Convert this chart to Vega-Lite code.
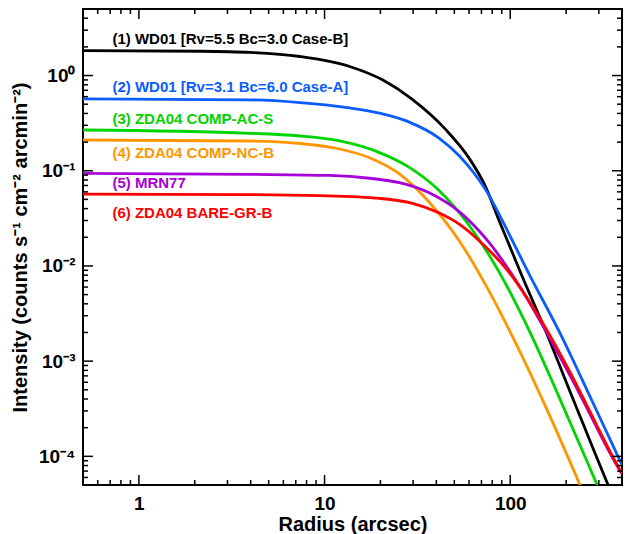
{
  "$schema": "https://vega.github.io/schema/vega-lite/v6.json",
  "width": 539,
  "height": 476,
  "autosize": {"type": "none"},
  "padding": {"left": 83, "top": 9, "right": 3, "bottom": 49},
  "background": "white",
  "config": {
    "view": {"stroke": "black", "strokeWidth": 2},
    "font": "Liberation Sans",
    "axis": {
      "grid": false,
      "domain": false,
      "labelFont": "Liberation Sans",
      "labelFontWeight": "bold",
      "labelColor": "black",
      "titleFont": "Liberation Sans",
      "titleFontWeight": "bold",
      "titleColor": "black"
    }
  },
  "datasets": {
    "curves": [
      {"model": "(1) WD01 [Rv=5.5 Bc=3.0 Case-B]", "r": 0.5, "I": 1.83},
      {"model": "(1) WD01 [Rv=5.5 Bc=3.0 Case-B]", "r": 2.14, "I": 1.80},
      {"model": "(1) WD01 [Rv=5.5 Bc=3.0 Case-B]", "r": 3.97, "I": 1.75},
      {"model": "(1) WD01 [Rv=5.5 Bc=3.0 Case-B]", "r": 7.36, "I": 1.585},
      {"model": "(1) WD01 [Rv=5.5 Bc=3.0 Case-B]", "r": 13.65, "I": 1.244},
      {"model": "(1) WD01 [Rv=5.5 Bc=3.0 Case-B]", "r": 20.5, "I": 0.901},
      {"model": "(1) WD01 [Rv=5.5 Bc=3.0 Case-B]", "r": 29.7, "I": 0.562},
      {"model": "(1) WD01 [Rv=5.5 Bc=3.0 Case-B]", "r": 45.0, "I": 0.27},
      {"model": "(1) WD01 [Rv=5.5 Bc=3.0 Case-B]", "r": 60.0, "I": 0.136},
      {"model": "(1) WD01 [Rv=5.5 Bc=3.0 Case-B]", "r": 73.8, "I": 0.0674},
      {"model": "(1) WD01 [Rv=5.5 Bc=3.0 Case-B]", "r": 86.5, "I": 0.031},
      {"model": "(1) WD01 [Rv=5.5 Bc=3.0 Case-B]", "r": 115.9, "I": 0.00779},
      {"model": "(1) WD01 [Rv=5.5 Bc=3.0 Case-B]", "r": 154.8, "I": 0.0021},
      {"model": "(1) WD01 [Rv=5.5 Bc=3.0 Case-B]", "r": 219.6, "I": 0.000386},
      {"model": "(1) WD01 [Rv=5.5 Bc=3.0 Case-B]", "r": 338, "I": 0.0000491},
      {"model": "(1) WD01 [Rv=5.5 Bc=3.0 Case-B]", "r": 392, "I": 0.0000249},

      {"model": "(2) WD01 [Rv=3.1 Bc=6.0 Case-A]", "r": 0.5, "I": 0.568},
      {"model": "(2) WD01 [Rv=3.1 Bc=6.0 Case-A]", "r": 3.97, "I": 0.555},
      {"model": "(2) WD01 [Rv=3.1 Bc=6.0 Case-A]", "r": 7.36, "I": 0.520},
      {"model": "(2) WD01 [Rv=3.1 Bc=6.0 Case-A]", "r": 13.65, "I": 0.457},
      {"model": "(2) WD01 [Rv=3.1 Bc=6.0 Case-A]", "r": 19.77, "I": 0.402},
      {"model": "(2) WD01 [Rv=3.1 Bc=6.0 Case-A]", "r": 28.6, "I": 0.324},
      {"model": "(2) WD01 [Rv=3.1 Bc=6.0 Case-A]", "r": 41.5, "I": 0.2193},
      {"model": "(2) WD01 [Rv=3.1 Bc=6.0 Case-A]", "r": 53.1, "I": 0.1438},
      {"model": "(2) WD01 [Rv=3.1 Bc=6.0 Case-A]", "r": 63.9, "I": 0.0941},
      {"model": "(2) WD01 [Rv=3.1 Bc=6.0 Case-A]", "r": 76.9, "I": 0.0551},
      {"model": "(2) WD01 [Rv=3.1 Bc=6.0 Case-A]", "r": 88.1, "I": 0.0334},
      {"model": "(2) WD01 [Rv=3.1 Bc=6.0 Case-A]", "r": 126, "I": 0.00832},
      {"model": "(2) WD01 [Rv=3.1 Bc=6.0 Case-A]", "r": 190, "I": 0.00179},
      {"model": "(2) WD01 [Rv=3.1 Bc=6.0 Case-A]", "r": 275.3, "I": 0.000386},
      {"model": "(2) WD01 [Rv=3.1 Bc=6.0 Case-A]", "r": 382.8, "I": 0.0000976},
      {"model": "(2) WD01 [Rv=3.1 Bc=6.0 Case-A]", "r": 400, "I": 0.0000812},

      {"model": "(3) ZDA04 COMP-AC-S", "r": 0.5, "I": 0.268},
      {"model": "(3) ZDA04 COMP-AC-S", "r": 3.97, "I": 0.2475},
      {"model": "(3) ZDA04 COMP-AC-S", "r": 7.36, "I": 0.2318},
      {"model": "(3) ZDA04 COMP-AC-S", "r": 12.06, "I": 0.2054},
      {"model": "(3) ZDA04 COMP-AC-S", "r": 19.77, "I": 0.1551},
      {"model": "(3) ZDA04 COMP-AC-S", "r": 28.6, "I": 0.1086},
      {"model": "(3) ZDA04 COMP-AC-S", "r": 41.5, "I": 0.0617},
      {"model": "(3) ZDA04 COMP-AC-S", "r": 60.0, "I": 0.02676},
      {"model": "(3) ZDA04 COMP-AC-S", "r": 87.0, "I": 0.00867},
      {"model": "(3) ZDA04 COMP-AC-S", "r": 126, "I": 0.00213},
      {"model": "(3) ZDA04 COMP-AC-S", "r": 182.4, "I": 0.000429},
      {"model": "(3) ZDA04 COMP-AC-S", "r": 299, "I": 0.0000463},
      {"model": "(3) ZDA04 COMP-AC-S", "r": 392, "I": 0.0000136},

      {"model": "(4) ZDA04 COMP-NC-B", "r": 0.5, "I": 0.2104},
      {"model": "(4) ZDA04 COMP-NC-B", "r": 3.97, "I": 0.2054},
      {"model": "(4) ZDA04 COMP-NC-B", "r": 7.36, "I": 0.1933},
      {"model": "(4) ZDA04 COMP-NC-B", "r": 12.06, "I": 0.1692},
      {"model": "(4) ZDA04 COMP-NC-B", "r": 17.48, "I": 0.137},
      {"model": "(4) ZDA04 COMP-NC-B", "r": 25.3, "I": 0.0925},
      {"model": "(4) ZDA04 COMP-NC-B", "r": 36.6, "I": 0.0467},
      {"model": "(4) ZDA04 COMP-NC-B", "r": 53.1, "I": 0.01842},
      {"model": "(4) ZDA04 COMP-NC-B", "r": 76.9, "I": 0.00544},
      {"model": "(4) ZDA04 COMP-NC-B", "r": 111.4, "I": 0.001318},
      {"model": "(4) ZDA04 COMP-NC-B", "r": 161.3, "I": 0.000281},
      {"model": "(4) ZDA04 COMP-NC-B", "r": 248.5, "I": 0.0000409},
      {"model": "(4) ZDA04 COMP-NC-B", "r": 299, "I": 0.0000176},

      {"model": "(5) MRN77", "r": 0.5, "I": 0.0939},
      {"model": "(5) MRN77", "r": 3.97, "I": 0.0917},
      {"model": "(5) MRN77", "r": 10.66, "I": 0.0892},
      {"model": "(5) MRN77", "r": 17.48, "I": 0.0834},
      {"model": "(5) MRN77", "r": 25.3, "I": 0.0749},
      {"model": "(5) MRN77", "r": 36.6, "I": 0.0587},
      {"model": "(5) MRN77", "r": 53.1, "I": 0.0372},
      {"model": "(5) MRN77", "r": 76.9, "I": 0.01764},
      {"model": "(5) MRN77", "r": 111.4, "I": 0.00626},
      {"model": "(5) MRN77", "r": 161.3, "I": 0.00182},
      {"model": "(5) MRN77", "r": 233.4, "I": 0.000477},
      {"model": "(5) MRN77", "r": 392, "I": 0.0000697},
      {"model": "(5) MRN77", "r": 400, "I": 0.0000655},

      {"model": "(6) ZDA04 BARE-GR-B", "r": 0.5, "I": 0.0568},
      {"model": "(6) ZDA04 BARE-GR-B", "r": 3.97, "I": 0.0562},
      {"model": "(6) ZDA04 BARE-GR-B", "r": 9.43, "I": 0.0548},
      {"model": "(6) ZDA04 BARE-GR-B", "r": 19.77, "I": 0.0512},
      {"model": "(6) ZDA04 BARE-GR-B", "r": 29.8, "I": 0.0454},
      {"model": "(6) ZDA04 BARE-GR-B", "r": 41.5, "I": 0.0359},
      {"model": "(6) ZDA04 BARE-GR-B", "r": 53.1, "I": 0.02748},
      {"model": "(6) ZDA04 BARE-GR-B", "r": 67.6, "I": 0.01865},
      {"model": "(6) ZDA04 BARE-GR-B", "r": 98.4, "I": 0.00859},
      {"model": "(6) ZDA04 BARE-GR-B", "r": 126, "I": 0.00431},
      {"model": "(6) ZDA04 BARE-GR-B", "r": 161.3, "I": 0.001957},
      {"model": "(6) ZDA04 BARE-GR-B", "r": 206.4, "I": 0.000816},
      {"model": "(6) ZDA04 BARE-GR-B", "r": 392, "I": 0.0000705},
      {"model": "(6) ZDA04 BARE-GR-B", "r": 400, "I": 0.0000658}
    ],
    "labels": [
      {"model": "(1) WD01 [Rv=5.5 Bc=3.0 Case-B]", "lx": 0.72, "ly": 2.42},
      {"model": "(2) WD01 [Rv=3.1 Bc=6.0 Case-A]", "lx": 0.72, "ly": 0.755},
      {"model": "(3) ZDA04 COMP-AC-S", "lx": 0.72, "ly": 0.348},
      {"model": "(4) ZDA04 COMP-NC-B", "lx": 0.72, "ly": 0.1525},
      {"model": "(5) MRN77", "lx": 0.72, "ly": 0.0737},
      {"model": "(6) ZDA04 BARE-GR-B", "lx": 0.72, "ly": 0.0359}
    ],
    "xmajor": [{"t": 1}, {"t": 10}, {"t": 100}],
    "xminor": [{"t": 0.6}, {"t": 0.7}, {"t": 0.8}, {"t": 0.9}, {"t": 2}, {"t": 3}, {"t": 4}, {"t": 5}, {"t": 6}, {"t": 7}, {"t": 8}, {"t": 9}, {"t": 20}, {"t": 30}, {"t": 40}, {"t": 50}, {"t": 60}, {"t": 70}, {"t": 80}, {"t": 90}, {"t": 200}, {"t": 300}],
    "ymajor": [{"v": 0.0001}, {"v": 0.001}, {"v": 0.01}, {"v": 0.1}, {"v": 1}],
    "yminor": [{"v": 0.00006}, {"v": 0.00007}, {"v": 0.00008}, {"v": 0.00009}, {"v": 0.0002}, {"v": 0.0003}, {"v": 0.0004}, {"v": 0.0005}, {"v": 0.0006}, {"v": 0.0007}, {"v": 0.0008}, {"v": 0.0009}, {"v": 0.002}, {"v": 0.003}, {"v": 0.004}, {"v": 0.005}, {"v": 0.006}, {"v": 0.007}, {"v": 0.008}, {"v": 0.009}, {"v": 0.02}, {"v": 0.03}, {"v": 0.04}, {"v": 0.05}, {"v": 0.06}, {"v": 0.07}, {"v": 0.08}, {"v": 0.09}, {"v": 0.2}, {"v": 0.3}, {"v": 0.4}, {"v": 0.5}, {"v": 0.6}, {"v": 0.7}, {"v": 0.8}, {"v": 0.9}, {"v": 2}, {"v": 3}, {"v": 4}]
  },
  "layer": [
    {
      "data": {"name": "curves"},
      "mark": {"type": "line", "strokeWidth": 2.8, "interpolate": "monotone", "clip": true},
      "encoding": {
        "x": {
          "field": "r", "type": "quantitative",
          "scale": {"type": "log", "domain": [0.5, 400], "nice": false},
          "axis": {
            "orient": "bottom", "values": [1, 10, 100], "ticks": false,
            "labelExpr": "datum.value >= 50 ? '100' : datum.value >= 5 ? '10' : '1'",
            "labelFontSize": 19, "labelPadding": 9,
            "title": "Radius (arcsec)", "titleFontSize": 20, "titlePadding": 1
          }
        },
        "y": {
          "field": "I", "type": "quantitative",
          "scale": {"type": "log", "domain": [0.00005, 5], "nice": false},
          "axis": {
            "orient": "left", "values": [0.0001, 0.001, 0.01, 0.1, 1], "ticks": false,
            "labelExpr": "datum.value >= 0.5 ? '10⁰' : datum.value >= 0.05 ? '10⁻¹' : datum.value >= 0.005 ? '10⁻²' : datum.value >= 0.0005 ? '10⁻³' : '10⁻⁴'",
            "labelFontSize": 19, "labelPadding": 8, "labelBaseline": "middle",
            "title": "Intensity (counts s⁻¹ cm⁻² arcmin⁻²)", "titleFontSize": 20, "titlePadding": 8
          }
        },
        "color": {
          "field": "model", "type": "nominal",
          "scale": {
            "domain": ["(1) WD01 [Rv=5.5 Bc=3.0 Case-B]", "(2) WD01 [Rv=3.1 Bc=6.0 Case-A]", "(3) ZDA04 COMP-AC-S", "(4) ZDA04 COMP-NC-B", "(5) MRN77", "(6) ZDA04 BARE-GR-B"],
            "range": ["#000000", "#0B5CFF", "#00D400", "#FF9600", "#A800D8", "#FF0000"]
          },
          "legend": null
        }
      }
    },
    {
      "data": {"name": "xmajor"},
      "mark": {"type": "rule", "color": "black", "strokeWidth": 1.5},
      "encoding": {
        "x": {"field": "t", "type": "quantitative", "axis": null},
        "y": {"datum": 0.00005, "axis": null},
        "y2": {"datum": 0.0000637}
      }
    },
    {
      "data": {"name": "xminor"},
      "mark": {"type": "rule", "color": "black", "strokeWidth": 1.5},
      "encoding": {
        "x": {"field": "t", "type": "quantitative", "axis": null},
        "y": {"datum": 0.00005, "axis": null},
        "y2": {"datum": 0.0000564}
      }
    },
    {
      "data": {"name": "xmajor"},
      "mark": {"type": "rule", "color": "black", "strokeWidth": 1.5},
      "encoding": {
        "x": {"field": "t", "type": "quantitative", "axis": null},
        "y": {"datum": 5, "axis": null},
        "y2": {"datum": 3.925}
      }
    },
    {
      "data": {"name": "xminor"},
      "mark": {"type": "rule", "color": "black", "strokeWidth": 1.5},
      "encoding": {
        "x": {"field": "t", "type": "quantitative", "axis": null},
        "y": {"datum": 5, "axis": null},
        "y2": {"datum": 4.43}
      }
    },
    {
      "data": {"name": "ymajor"},
      "mark": {"type": "rule", "color": "black", "strokeWidth": 1.5},
      "encoding": {
        "y": {"field": "v", "type": "quantitative", "axis": null},
        "x": {"datum": 0.5, "axis": null},
        "x2": {"datum": 0.566}
      }
    },
    {
      "data": {"name": "yminor"},
      "mark": {"type": "rule", "color": "black", "strokeWidth": 1.5},
      "encoding": {
        "y": {"field": "v", "type": "quantitative", "axis": null},
        "x": {"datum": 0.5, "axis": null},
        "x2": {"datum": 0.532}
      }
    },
    {
      "data": {"name": "ymajor"},
      "mark": {"type": "rule", "color": "black", "strokeWidth": 1.5},
      "encoding": {
        "y": {"field": "v", "type": "quantitative", "axis": null},
        "x": {"datum": 400, "axis": null},
        "x2": {"datum": 353.4}
      }
    },
    {
      "data": {"name": "yminor"},
      "mark": {"type": "rule", "color": "black", "strokeWidth": 1.5},
      "encoding": {
        "y": {"field": "v", "type": "quantitative", "axis": null},
        "x": {"datum": 400, "axis": null},
        "x2": {"datum": 376}
      }
    },
    {
      "data": {"name": "labels"},
      "mark": {"type": "text", "align": "left", "baseline": "middle", "fontSize": 15, "fontWeight": "bold", "font": "Liberation Sans"},
      "encoding": {
        "x": {"field": "lx", "type": "quantitative", "axis": null},
        "y": {"field": "ly", "type": "quantitative", "axis": null},
        "text": {"field": "model"},
        "color": {"field": "model", "type": "nominal", "legend": null}
      }
    }
  ],
  "resolve": {
    "axis": {"x": "independent", "y": "independent"}
  }
}
